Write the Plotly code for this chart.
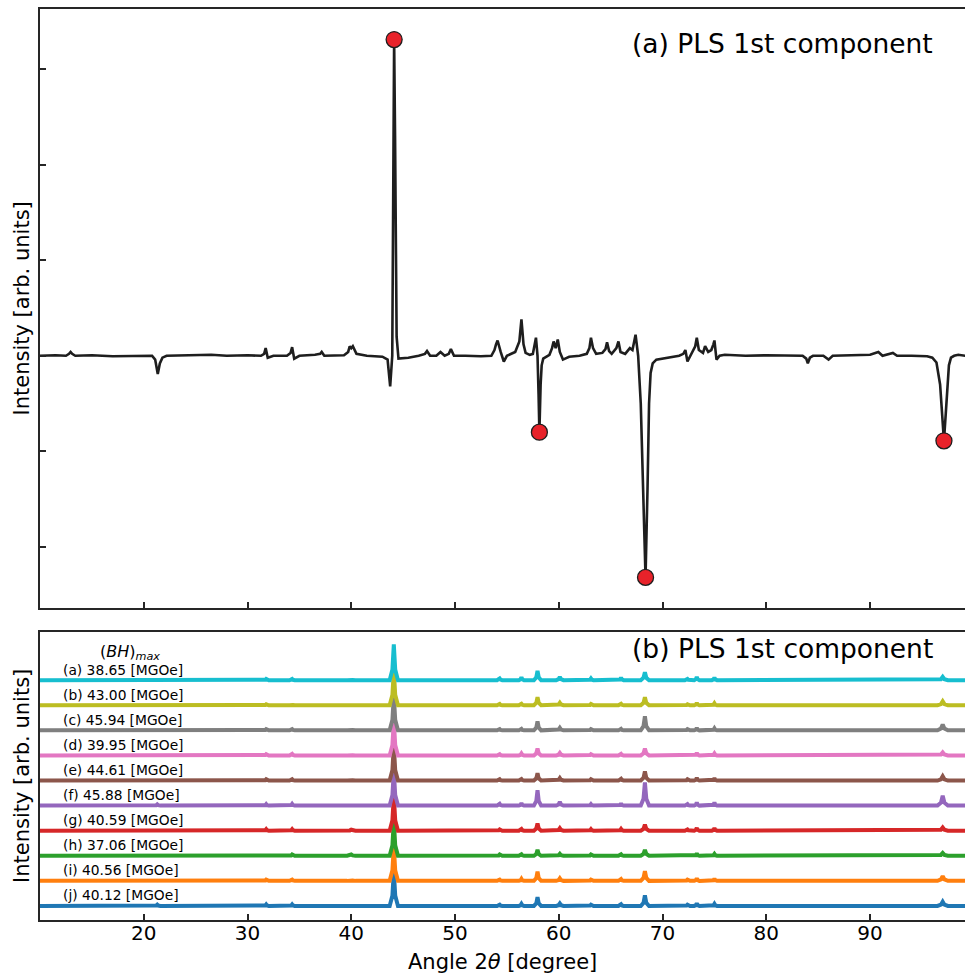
import plotly.graph_objects as go

# ---------------- (a) PLS 1st component loading ----------------
TOP_2THETA = [
    10.0, 11.5, 12.5, 12.8, 12.95, 13.1, 13.4, 15.0, 17.0, 19.0, 20.8, 21.1, 21.35, 21.55, 21.8, 22.2,
    24.0, 26.5, 28.0, 30.0, 31.3, 31.6, 31.75, 31.95, 32.5, 33.8, 34.15, 34.3, 34.5, 35.0, 36.5,
    37.0, 37.15, 37.4, 39.3, 39.7, 39.85, 40.0, 40.15, 40.5, 41.5, 43.0, 43.5, 43.75, 43.95, 44.05, 44.13,
    44.22, 44.37, 44.55, 45.5, 46.5, 47.1, 47.3, 47.6, 48.2, 48.6, 49.0, 49.4, 49.6, 49.9, 51.0,
    52.5, 53.5, 53.8, 53.95, 54.1, 54.4, 54.7, 55.0, 55.8, 56.2, 56.4, 56.6, 56.8, 57.2, 57.5, 57.8,
    57.95, 58.05, 58.13, 58.25, 58.35, 58.5, 58.8, 59.1, 59.35, 59.5, 59.7, 59.9, 60.1, 60.4, 61.0,
    62.0, 62.7, 62.95, 63.1, 63.3, 63.6, 64.2, 64.5, 64.65, 64.85, 65.1, 65.55, 65.75, 65.95, 66.4, 66.85, 67.1,
    67.4, 67.65, 67.9, 68.15, 68.36, 68.55, 68.7, 68.85, 69.05, 69.4, 70.0, 71.6, 72.0, 72.2,
    72.4, 72.8, 73.15, 73.3, 73.5, 73.9, 74.1, 74.4, 74.7, 74.9, 75.0, 75.2, 75.5, 76.0, 78.0,
    80.0, 82.0, 83.5, 83.85, 84.0, 84.2, 84.5, 85.5, 86.0, 86.4, 88.0, 90.0, 90.8, 91.2, 92.2,
    92.6, 94.0, 95.5, 96.0, 96.4, 96.75, 96.95, 97.12, 97.3, 97.45, 97.6, 97.8, 98.1, 98.5, 99.2,
]
TOP_INTENSITY = [
    0.0, 0.005, 0.0, 0.02, 0.04, 0.02, 0.0, 0.005, -0.005, 0.0, 0.0, -0.04, -0.19, -0.08, -0.02, 0.0,
    0.005, 0.01, 0.0, 0.005, 0.0, 0.02, 0.08, -0.02, 0.0, 0.0, 0.03, 0.09, -0.03, 0.0, 0.01,
    0.02, 0.04, 0.0, 0.005, 0.04, 0.1, 0.08, 0.1, 0.02, 0.0, -0.01, -0.04, -0.32, 0.0, 2.5, 3.31,
    2.3, 0.2, -0.03, -0.02, 0.0, 0.02, 0.05, 0.0, 0.0, 0.04, 0.0, 0.02, 0.07, 0.0, 0.0,
    -0.005, 0.0, 0.06, 0.12, 0.16, 0.04, -0.06, 0.0, 0.04, 0.15, 0.38, 0.12, 0.03, 0.01, 0.02, 0.19,
    0.0, -0.4, -0.80, -0.3, -0.1, -0.03, -0.01, 0.01, 0.08, 0.15, 0.08, 0.17, 0.04, -0.04, -0.01,
    0.0, 0.02, 0.08, 0.19, 0.08, 0.02, 0.03, 0.07, 0.14, 0.05, 0.02, 0.08, 0.15, 0.04, 0.02, 0.08, 0.06,
    0.22, 0.0, -0.5, -1.6, -2.32, -1.4, -0.5, -0.18, -0.08, -0.04, -0.03, 0.0, 0.02, 0.06,
    -0.06, 0.03, 0.1, 0.19, 0.06, 0.03, 0.1, 0.04, 0.06, 0.12, 0.16, -0.04, 0.0, 0.01, 0.0,
    0.005, 0.0, 0.0, -0.03, -0.08, -0.02, 0.0, 0.0, -0.04, 0.0, 0.005, 0.01, 0.04, 0.0, 0.03,
    0.0, 0.0, -0.005, -0.02, -0.07, -0.3, -0.6, -0.89, -0.6, -0.3, -0.1, -0.02, 0.0, 0.01, 0.0,
]
# extrema highlighted with red markers
EXTREMA_2THETA = [44.13, 58.13, 68.36, 97.12]
EXTREMA_INTENSITY = [3.31, -0.80, -2.32, -0.89]

# ---------------- (b) stacked patterns ----------------
SAMPLE_IDS = ["a", "b", "c", "d", "e", "f", "g", "h", "i", "j"]
BH_MAX = ["38.65", "43.00", "45.94", "39.95", "44.61", "45.88", "40.59", "37.06", "40.56", "40.12"]
SAMPLE_COLORS = ["#17becf", "#bcbd22", "#7f7f7f", "#e377c2", "#8c564b",
                 "#9467bd", "#d62728", "#2ca02c", "#ff7f0e", "#1f77b4"]
STACK_OFFSET = [9, 8, 7, 6, 5, 4, 3, 2, 1, 0]

PEAK_2THETA = [21.3, 31.8, 34.3, 40.0, 44.1, 54.3, 56.4, 57.95, 60.1, 63.1,
               66.0, 68.3, 72.4, 73.3, 75.0, 84.0, 97.0]
PEAK_HALFWIDTH = [0.3, 0.25, 0.25, 0.4, 0.4, 0.25, 0.25, 0.35, 0.35, 0.25,
                  0.25, 0.4, 0.25, 0.25, 0.25, 0.3, 0.5]
# peak heights per sample, rows follow SAMPLE_IDS, columns follow PEAK_2THETA
PEAK_HEIGHT = [
    [0.02, 0.05, 0.05, 0.04, 1.43, 0.07, 0.12, 0.37, 0.13, 0.07, 0.10, 0.32, 0.05, 0.13, 0.10, 0.02, 0.13],
    [0.02, 0.04, 0.04, 0.03, 1.40, 0.05, 0.06, 0.32, 0.10, 0.05, 0.06, 0.32, 0.04, 0.10, 0.08, 0.02, 0.16],
    [0.02, 0.05, 0.05, 0.04, 1.40, 0.05, 0.06, 0.36, 0.10, 0.05, 0.06, 0.56, 0.05, 0.10, 0.08, 0.02, 0.23],
    [0.02, 0.05, 0.06, 0.04, 1.40, 0.05, 0.08, 0.28, 0.10, 0.05, 0.06, 0.28, 0.04, 0.10, 0.08, 0.02, 0.12],
    [0.02, 0.05, 0.05, 0.04, 1.40, 0.05, 0.06, 0.29, 0.10, 0.05, 0.07, 0.36, 0.05, 0.11, 0.09, 0.02, 0.17],
    [0.05, 0.06, 0.07, 0.04, 1.40, 0.07, 0.10, 0.61, 0.15, 0.06, 0.09, 0.92, 0.06, 0.13, 0.12, 0.02, 0.39],
    [0.02, 0.06, 0.06, 0.04, 1.40, 0.05, 0.07, 0.29, 0.10, 0.06, 0.07, 0.24, 0.05, 0.11, 0.10, 0.02, 0.13],
    [0.02, 0.04, 0.05, 0.05, 1.40, 0.05, 0.06, 0.24, 0.08, 0.05, 0.06, 0.24, 0.04, 0.09, 0.07, 0.02, 0.11],
    [0.02, 0.05, 0.05, 0.04, 1.40, 0.05, 0.08, 0.37, 0.10, 0.05, 0.07, 0.39, 0.05, 0.10, 0.09, 0.02, 0.19],
    [0.05, 0.06, 0.06, 0.04, 1.40, 0.05, 0.08, 0.35, 0.10, 0.05, 0.07, 0.42, 0.05, 0.10, 0.08, 0.02, 0.17],
]
X_START, X_END = 10.0, 99.15


def pattern(heights, offset):
    """Polyline through baseline and each peak (base, shoulder, apex, shoulder, base)."""
    xs, ys = [X_START], [offset]
    for pos, hw, h in zip(PEAK_2THETA, PEAK_HALFWIDTH, heights):
        xs += [pos - hw, pos - hw / 3, pos, pos + hw / 3, pos + hw]
        ys += [offset, offset + 0.3 * h, offset + h, offset + 0.3 * h, offset]
    xs.append(X_END)
    ys.append(offset)
    return xs, ys


FONT = "DejaVu Sans"
AXIS_COLOR = "#262626"

fig = go.Figure()

fig.add_trace(go.Scatter(
    x=TOP_2THETA, y=TOP_INTENSITY, mode="lines",
    line=dict(color="#1e1e1e", width=2.6), xaxis="x", yaxis="y", showlegend=False,
))
fig.add_trace(go.Scatter(
    x=EXTREMA_2THETA, y=EXTREMA_INTENSITY, mode="markers",
    marker=dict(color="#e8222a", size=16, line=dict(color="#1e1e1e", width=1.3)),
    xaxis="x", yaxis="y", showlegend=False,
))

# draw the bottom sample first so upper patterns sit on top
for i in reversed(range(len(SAMPLE_IDS))):
    xs, ys = pattern(PEAK_HEIGHT[i], STACK_OFFSET[i])
    fig.add_trace(go.Scatter(
        x=xs, y=ys, mode="lines",
        line=dict(color=SAMPLE_COLORS[i], width=4),
        xaxis="x2", yaxis="y2", showlegend=False,
    ))

annotations = []
for sid, bh, off in zip(SAMPLE_IDS, BH_MAX, STACK_OFFSET):
    annotations.append(dict(
        x=12.0, y=off + 0.42, xref="x2", yref="y2", xanchor="left", yanchor="middle",
        text=f"({sid}) {bh} [MGOe]", showarrow=False,
        font=dict(family=FONT, size=13.8, color="black"),
    ))
annotations += [
    dict(x=18.7, y=10.12, xref="x2", yref="y2", xanchor="center", yanchor="middle",
         text="(<i>BH</i>)<sub><i>max</i></sub>", showarrow=False,
         font=dict(family=FONT, size=16, color="black")),
    dict(x=96.3, y=3.27, xref="x", yref="y", xanchor="right", yanchor="middle",
         text="(a) PLS 1st component", showarrow=False,
         font=dict(family=FONT, size=26.5, color="black")),
    dict(x=96.3, y=10.28, xref="x2", yref="y2", xanchor="right", yanchor="middle",
         text="(b) PLS 1st component", showarrow=False,
         font=dict(family=FONT, size=26.5, color="black")),
    dict(x=0, y=0.5, xref="paper", yref="y domain", xanchor="center", yanchor="middle",
         xshift=-18, textangle=-90, text="Intensity [arb. units]", showarrow=False,
         font=dict(family=FONT, size=21, color="black")),
    dict(x=0, y=0.5, xref="paper", yref="y2 domain", xanchor="center", yanchor="middle",
         xshift=-18, textangle=-90, text="Intensity [arb. units]", showarrow=False,
         font=dict(family=FONT, size=21, color="black")),
    dict(x=0.5, y=0, xref="paper", yref="paper", xanchor="center", yanchor="middle",
         yshift=-42, text="Angle 2<i>θ</i> [degree]", showarrow=False,
         font=dict(family=FONT, size=21, color="black")),
]

common_x = dict(
    range=[X_START, X_END], tickvals=[20, 30, 40, 50, 60, 70, 80, 90],
    ticks="inside", ticklen=6, tickwidth=2, tickcolor=AXIS_COLOR,
    showline=True, linecolor=AXIS_COLOR, linewidth=2, mirror=True,
    showgrid=False, zeroline=False,
)

fig.update_layout(
    width=965, height=973,
    margin=dict(l=40, r=0, t=9, b=53),
    paper_bgcolor="white", plot_bgcolor="white",
    font=dict(family=FONT, color="black"),
    xaxis=dict(**common_x, domain=[0, 1], anchor="y", showticklabels=False),
    yaxis=dict(domain=[0.3425, 1], anchor="x", range=[-2.64, 3.63],
               tickvals=[-2, -1, 0, 1, 2, 3], showticklabels=False,
               ticks="inside", ticklen=6, tickwidth=2, tickcolor=AXIS_COLOR,
               showline=True, linecolor=AXIS_COLOR, linewidth=2,
               showgrid=False, zeroline=False),
    xaxis2=dict(**common_x, domain=[0, 1], anchor="y2", showticklabels=True,
                ticklabelstandoff=-6,
                tickfont=dict(family=FONT, size=20, color="black")),
    yaxis2=dict(domain=[0, 0.3161], anchor="x2", range=[-0.56, 10.92],
                showticklabels=False, ticks="",
                showline=True, linecolor=AXIS_COLOR, linewidth=2,
                showgrid=False, zeroline=False),
    annotations=annotations,
)

fig.write_html("out.html")
